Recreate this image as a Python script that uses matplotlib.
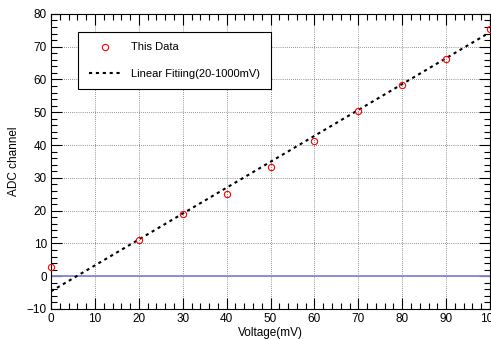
import numpy as np
import matplotlib
matplotlib.use('Agg')
import matplotlib.pyplot as plt
from matplotlib.ticker import MultipleLocator

matplotlib.rcParams['font.family'] = ['Liberation Sans', 'DejaVu Sans']
matplotlib.rcParams['font.size'] = 8.5

# 数据（从图上读出来的）
voltage = [0, 20, 30, 40, 50, 60, 70, 80, 90, 100]
adc = [2.8, 11.0, 19.1, 25.1, 33.3, 41.1, 50.3, 58.3, 66.3, 75.3]

# 拟合直线参数 (20-1000mV)
fit_slope = 0.79
fit_intercept = -4.6
fit_range = [0, 99]

baseline = 0

fig = plt.figure(figsize=(4.91, 3.39), dpi=100)
ax = fig.add_axes([0.104, 0.0885, 0.894, 0.8705])

ax.plot([0, 100], [baseline, baseline], color='#8484d8', lw=1.3, zorder=2)

fx = np.array(fit_range)
ax.plot(fx, fit_slope * fx + fit_intercept, color='black', lw=1.5,
        linestyle=(0, (1.5, 1.8)), label='Linear Fitiing(20-1000mV)', zorder=3)
ax.plot(voltage, adc, 'o', mfc='none', mec='red', ms=4.5, mew=0.8,
        label='This Data', clip_on=False, zorder=4)

ax.set_xlim(0, 100)
ax.set_ylim(-10, 80)
ax.xaxis.set_major_locator(MultipleLocator(10))
ax.xaxis.set_minor_locator(MultipleLocator(2))
ax.yaxis.set_major_locator(MultipleLocator(10))
ax.yaxis.set_minor_locator(MultipleLocator(2))
ax.tick_params(which='both', direction='in', top=True, right=True, width=0.8, pad=3)
ax.tick_params(which='major', length=8)
ax.tick_params(which='minor', length=4.5)
ax.grid(True, which='major', color='#333333', linestyle=(0, (1, 2)), lw=0.5)
for s in ax.spines.values():
    s.set_linewidth(0.8)

ax.set_xlabel('Voltage(mV)', labelpad=1)
ax.set_ylabel('ADC channel', labelpad=5)

h, l = ax.get_legend_handles_labels()
leg = ax.legend(h[::-1], l[::-1], loc='upper left',
                bbox_to_anchor=(0.0615, 0.749, 0.44, 0.19), mode='expand',
                borderaxespad=0, fancybox=False, framealpha=1, edgecolor='black',
                labelspacing=1.45, handlelength=3.0, handletextpad=0.8,
                borderpad=0.95, fontsize=8)
leg.get_frame().set_linewidth(0.8)

fig.savefig('out.png', dpi=100)
